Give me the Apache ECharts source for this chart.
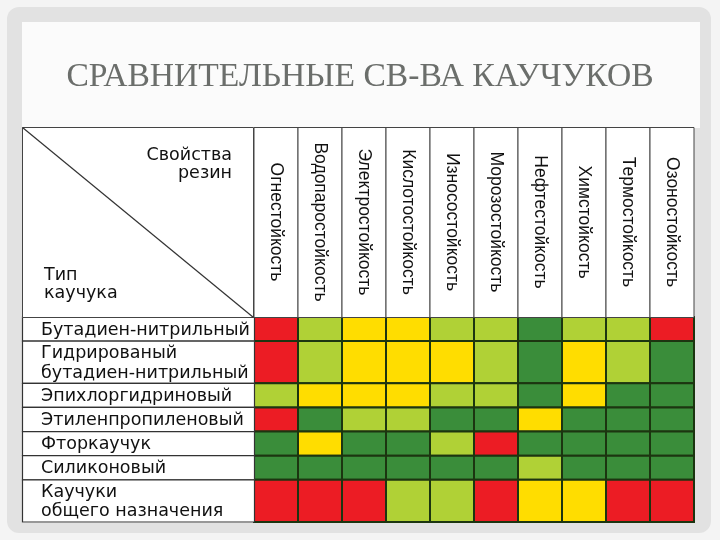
<!DOCTYPE html>
<html><head><meta charset="utf-8">
<script src="https://cdn.jsdelivr.net/npm/echarts@6/dist/echarts.min.js"></script>
<style>html,body{margin:0;padding:0;background:#f4f4f4}#c{width:720px;height:540px}</style>
</head><body><div id="c"></div>
<script>
// ---- data ----
const titleText = 'СРАВНИТЕЛЬНЫЕ СВ-ВА КАУЧУКОВ';
const properties = ['Огнестойкость','Водопаростойкость','Электростойкость','Кислотостойкость','Износостойкость','Морозостойкость','Нефтестойкость','Химстойкость','Термостойкость','Озоностойкость'];
const rubbers = ['Бутадиен-нитрильный','Гидрированый\nбутадиен-нитрильный','Эпихлоргидриновый','Этиленпропиленовый','Фторкаучук','Силиконовый','Каучуки\nобщего назначения'];
// rating: 1 = poor (red), 2 = fair (yellow), 3 = good (light green), 4 = excellent (dark green)
const butadieneNitrile   = [1,3,2,2,3,3,4,3,3,1];
const hydroNitrile       = [1,3,2,2,2,3,4,2,3,4];
const epichlorohydrin    = [3,2,2,2,3,3,4,2,4,4];
const ethylenePropylene  = [1,4,3,3,4,4,2,4,4,4];
const fluoroRubber       = [4,2,4,4,3,1,4,4,4,4];
const silicone           = [4,4,4,4,4,4,3,4,4,4];
const generalPurpose     = [1,1,1,3,3,1,2,2,1,1];
const ratings = [butadieneNitrile, hydroNitrile, epichlorohydrin, ethylenePropylene, fluoroRubber, silicone, generalPurpose];
const cornerTop = 'Свойства\nрезин';
const cornerBottom = 'Тип\nкаучука';

// ---- layout helpers ----
const levelColors = {1:'#ec1c24', 2:'#ffdd00', 3:'#b0d136', 4:'#3a8d3a'};
const rowSpans = rubbers.map(r => r.split('\n').length > 1 ? 1.75 : 1);
const rowStart = [];
let acc = 0;
rowSpans.forEach(s => { rowStart.push(acc); acc += s; });
const totalRows = acc;

const cellData = [];
ratings.forEach((row, r) => row.forEach((v, c) => cellData.push([c, rowStart[r], rowStart[r] + rowSpans[r], v])));
const labelData = rubbers.map((name, r) => [0, rowStart[r], rowStart[r] + rowSpans[r], name]);
const headerData = properties.map((p, c) => [c, 0, 1]);

const chart = echarts.init(document.getElementById('c'));
chart.setOption({
  animation: false,
  backgroundColor: '#f4f4f4',
  title: {
    text: titleText, left: 'center', top: 55,
    textStyle: {fontFamily: 'Liberation Serif', fontSize: 33.6, fontWeight: 'normal', color: '#6b6e6b'}
  },
  graphic: [
    {type:'rect', z:-20, shape:{x:7, y:7, width:704, height:526, r:12}, style:{fill:'#e2e2e2'}},
    {type:'rect', z:-19, shape:{x:22, y:22, width:678, height:106}, style:{fill:'#fbfbfb'}},
    {type:'rect', z:-18, shape:{x:22, y:127, width:672, height:396}, style:{fill:'#ffffff'}},
    {type:'rect', z:5, shape:{x:22.5, y:127.5, width:231, height:190}, style:{fill:'#ffffff', stroke:'#444', lineWidth:1}},
    {type:'line', z:6, shape:{x1:22.5, y1:127.5, x2:253.5, y2:317.5}, style:{stroke:'#333', lineWidth:1.2}},
    {type:'text', z:6, style:{text:cornerTop, x:232, y:164, align:'right', verticalAlign:'middle', font:'17.5px "DejaVu Sans"', fill:'#111', lineHeight:18}},
    {type:'text', z:6, style:{text:cornerBottom, x:44, y:284, align:'left', verticalAlign:'middle', font:'17.5px "DejaVu Sans"', fill:'#111', lineHeight:18}}
  ],
  grid: [
    {left:254, top:317, width:440, height:205},
    {left:22, top:317, width:232, height:205},
    {left:254, top:127, width:440, height:190}
  ],
  xAxis: [
    {type:'category', gridIndex:0, data:properties, show:false},
    {type:'value', gridIndex:1, min:0, max:1, show:false},
    {type:'category', gridIndex:2, data:properties, show:false}
  ],
  yAxis: [
    {type:'value', gridIndex:0, min:0, max:totalRows, inverse:true, show:false},
    {type:'value', gridIndex:1, min:0, max:totalRows, inverse:true, show:false},
    {type:'value', gridIndex:2, min:0, max:1, inverse:true, show:false}
  ],
  series: [
    {
      type:'custom', xAxisIndex:0, yAxisIndex:0, data:cellData,
      renderItem: function(params, api) {
        const p0 = api.coord([api.value(0), api.value(1)]);
        const p1 = api.coord([api.value(0), api.value(2)]);
        const w = api.size([1, 0])[0];
        return {type:'rect', shape:{x:p0[0]-w/2, y:p0[1], width:w, height:p1[1]-p0[1]},
          style:{fill: levelColors[api.value(3)], stroke:'#1c3510', lineWidth:2}};
      }
    },
    {
      type:'custom', xAxisIndex:1, yAxisIndex:1, data:labelData,
      renderItem: function(params, api) {
        const p0 = api.coord([0, api.value(1)]);
        const p1 = api.coord([1, api.value(2)]);
        const name = labelData[params.dataIndex][3];
        return {type:'group', children:[
          {type:'rect', shape:{x:p0[0]+0.5, y:p0[1], width:p1[0]-p0[0], height:p1[1]-p0[1]},
            style:{fill:'#ffffff', stroke:'#333', lineWidth:1.2}},
          {type:'text', style:{text:name, x:p0[0]+19, y:(p0[1]+p1[1])/2+1, align:'left', verticalAlign:'middle',
            font:'17.5px "DejaVu Sans"', fill:'#111', lineHeight:19.5}}
        ]};
      }
    },
    {
      type:'custom', xAxisIndex:2, yAxisIndex:2, data:headerData,
      renderItem: function(params, api) {
        const c = api.value(0);
        const p0 = api.coord([c, 0]);
        const p1 = api.coord([c, 1]);
        const w = api.size([1, 0])[0];
        return {type:'group', children:[
          {type:'rect', shape:{x:p0[0]-w/2, y:p0[1]+0.5, width:w, height:p1[1]-p0[1]},
            style:{fill:'#ffffff', stroke:'#444', lineWidth:1}},
          {type:'text', x:p0[0], y:(p0[1]+p1[1])/2, rotation:-Math.PI/2,
            style:{text:properties[c], x:0, y:0, align:'center', verticalAlign:'middle',
              font:'17.5px "Liberation Sans"', fill:'#111'}}
        ]};
      }
    }
  ]
});
</script></body></html>
